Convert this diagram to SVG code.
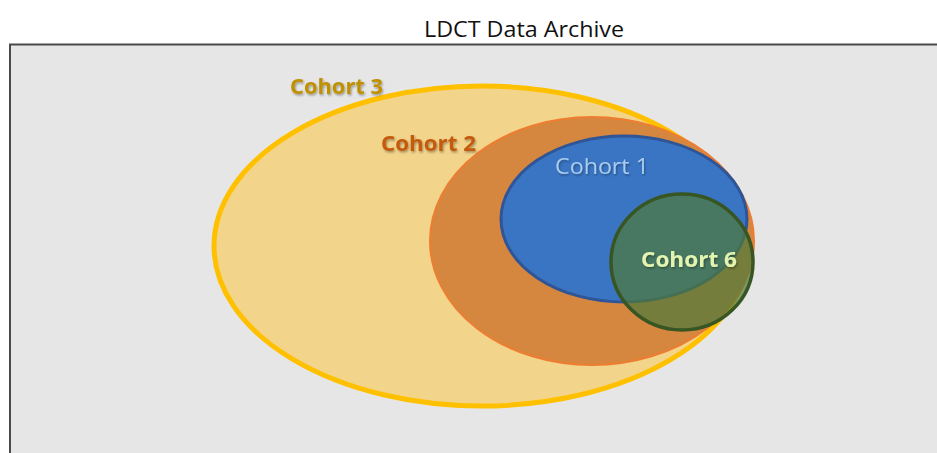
<svg xmlns="http://www.w3.org/2000/svg" width="937" height="453" viewBox="0 0 937 453">
  <defs>
    <filter id="shadow" x="-10%" y="-30%" width="120%" height="160%">
      <feDropShadow dx="1" dy="1.5" stdDeviation="1" flood-color="#000" flood-opacity="0.35"/>
    </filter>
  </defs>
  <style>
    .title { font-family: "Open Sans", "Liberation Sans", sans-serif; font-size: 22px; fill: #111; }
    .lbl { font-family: "Open Sans", "Liberation Sans", sans-serif; font-size: 22px; filter: url(#shadow); }
  </style>
  <rect width="937" height="453" fill="#ffffff"/>
  <text class="title" x="524" y="37" text-anchor="middle" textLength="200" lengthAdjust="spacingAndGlyphs">LDCT Data Archive</text>

  <!-- archive frame -->
  <g id="archive">
    <rect x="10" y="44.5" width="940" height="420" fill="#E6E6E6" stroke="#4a4a4a" stroke-width="2"/>
  </g>

  <g id="cohort3">
    <ellipse cx="482" cy="246" rx="268" ry="160" fill="#F2D48B" stroke="#FFC000" stroke-width="5"/>
    <text class="lbl" x="290" y="94" font-weight="bold" fill="#BF9000" textLength="93" lengthAdjust="spacingAndGlyphs">Cohort 3</text>
  </g>

  <g id="cohort2">
    <ellipse cx="592" cy="241" rx="162" ry="124" fill="#D6873F" stroke="#ED7D31" stroke-width="2"/>
    <text class="lbl" x="381" y="151" font-weight="bold" fill="#C55A11" textLength="95" lengthAdjust="spacingAndGlyphs">Cohort 2</text>
  </g>

  <g id="cohort1">
    <ellipse cx="624" cy="219" rx="123" ry="83" fill="#3A75C4" stroke="#2F5597" stroke-width="3"/>
    <text class="lbl" x="555" y="174" fill="#A9CCEE" textLength="94" lengthAdjust="spacingAndGlyphs">Cohort 1</text>
  </g>

  <g id="cohort6">
    <ellipse cx="682" cy="262" rx="71" ry="68" fill="#4E7A3A" fill-opacity="0.72" stroke="#375623" stroke-width="3.5"/>
    <text class="lbl" x="641" y="267" font-weight="bold" fill="#E2F4B0" textLength="96" lengthAdjust="spacingAndGlyphs">Cohort 6</text>
  </g>
</svg>
